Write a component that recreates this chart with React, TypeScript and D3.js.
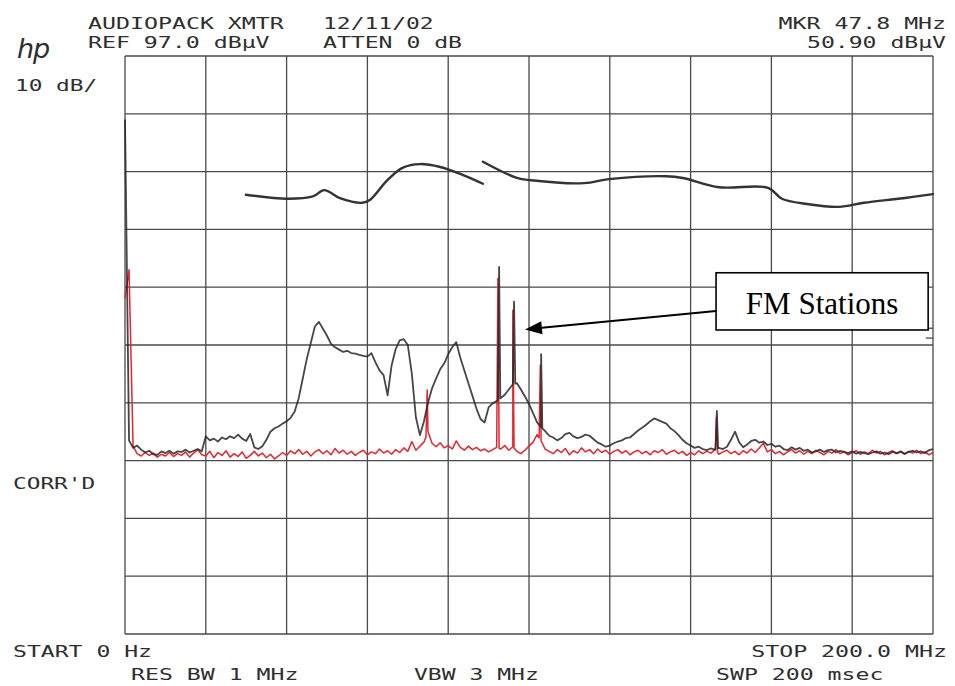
import React from 'react';
import * as d3 from 'd3';

// spectrum analyzer plot, 0-200 MHz, ref 97 dBuV, 10 dB/div
const startMHz = 0;
const stopMHz = 200;
const refLevel = 97;
const dbPerDiv = 10;

// black trace (transmitter on), one reading per MHz
const blackTrace = [
  86, 30.5, 29.2, 29.6, 28.9, 28.4, 28.7, 28.1, 28.0, 28.6,
  28.3, 28.7, 28.2, 28.6, 28.5, 28.9, 28.4, 28.7, 29.0, 28.6,
  31.2, 30.5, 30.8, 30.3, 31.0, 30.7, 31.2, 30.9, 31.5, 30.8,
  30.4, 31.6, 29.3, 29.0, 29.5, 30.6, 32.0, 32.6, 32.9, 33.4,
  33.8, 34.4, 35.5, 37.8, 41.2, 44.6, 47.4, 50.2, 51.0, 49.8,
  48.6, 47.2, 46.6, 46.2, 45.8, 46.0, 45.6, 45.5, 45.3, 45.1,
  45.0, 45.6, 44.0, 42.6, 41.8, 38.3, 43.5, 46.3, 47.8, 48.0,
  47.0, 42.0, 34.5, 31.4, 33.8, 37.0, 39.5, 41.2, 42.8, 43.8,
  45.4, 46.6, 47.5, 44.8, 42.6, 40.4, 38.2, 36.0, 34.2, 33.6,
  36.2, 36.9, 37.3, 37.8, 38.4, 39.3, 40.2, 40.4, 39.3, 38.1,
  36.8, 35.2, 33.6, 32.8, 32.1, 31.3, 31.0, 30.5, 30.9, 31.6,
  31.8, 31.2, 30.9, 31.1, 31.5, 31.3, 30.7, 30.1, 29.8, 29.4,
  29.6, 30.0, 30.3, 30.5, 30.9, 31.0, 31.6, 32.2, 32.7, 33.2,
  33.8, 34.3, 34.0, 33.7, 33.4, 32.6, 32.1, 31.4, 30.6, 30.0,
  29.6, 29.2, 29.4, 29.0, 28.8, 29.1, 28.9, 29.2, 29.0, 29.4,
  30.6, 32.0, 30.2, 29.3, 29.8, 30.4, 30.6, 30.1, 30.3, 29.7,
  29.9, 29.4, 29.6, 29.0, 28.8, 29.3, 28.9, 29.2, 28.7, 28.9,
  28.4, 28.6, 28.9, 28.5, 28.8, 28.9, 28.4, 28.7, 28.5, 28.3,
  28.6, 28.2, 28.5, 28.3, 28.1, 28.4, 28.6, 28.2, 28.4, 28.1,
  28.5, 28.3, 28.6, 28.2, 28.5, 28.7, 28.4, 28.6, 28.3, 28.8,
  29.0,
];

// red trace (ambient), one reading per MHz
const redTrace = [
  55, 60, 29.5, 28.2, 27.8, 28.4, 27.9, 28.3, 27.6, 28.1,
  27.8, 28.4, 27.7, 28.2, 27.9, 28.5, 27.6, 28.3, 28.9, 28.0,
  27.8, 28.6, 27.5, 28.4, 27.9, 28.7, 27.6, 28.2, 27.7, 28.5,
  27.4, 27.9, 28.6, 27.8, 28.3, 27.5, 28.1, 27.3, 27.8, 28.4,
  27.9, 28.7, 28.2, 28.9, 28.1, 28.6, 27.8, 28.5, 28.9, 28.2,
  28.7, 28.0, 29.1, 28.3, 28.8, 28.1, 28.6, 27.9, 28.4, 28.8,
  28.0, 28.5, 28.2, 29.0, 28.3, 28.7, 28.1, 28.9, 28.4, 29.2,
  28.6, 30.3, 28.8, 29.5, 30.2, 32.0, 30.0, 29.4, 30.1, 29.2,
  29.6, 29.0, 30.4, 29.3, 28.8, 29.5, 28.9, 29.3, 28.7, 29.0,
  28.5, 28.9, 29.3, 29.0, 29.6, 28.8, 29.4, 28.6, 28.2, 28.8,
  29.5, 30.2, 31.5, 30.4, 29.0, 28.6, 28.2, 28.9, 28.4, 29.1,
  28.0, 28.7, 28.3, 29.2, 28.5, 28.9, 28.2, 29.0, 28.4, 28.8,
  28.1, 28.6, 28.9, 28.3, 28.7, 28.0, 28.5, 28.8, 28.2, 28.6,
  28.0, 28.7, 28.4, 28.9, 28.1, 28.5, 28.8, 28.2, 28.6, 27.9,
  28.4, 28.0, 28.7, 28.2, 28.6, 28.3, 28.9, 28.1, 28.5, 28.8,
  28.2, 28.6, 28.0, 28.7, 28.3, 29.0, 28.4, 29.2, 30.0, 28.5,
  28.9, 28.2, 28.6, 28.0, 28.5, 28.9, 28.3, 28.7, 28.1, 28.6,
  28.2, 28.8, 28.4, 28.0, 28.6, 28.3, 28.9, 28.2, 28.5, 28.0,
  28.4, 28.7, 28.1, 28.5, 28.2, 28.8, 28.3, 28.6, 28.0, 28.4,
  28.7, 28.2, 28.5, 28.1, 28.6, 28.3, 28.8, 28.2, 28.5, 28.0,
  28.4,
];

// narrow carriers [MHz, dBuV]
const blackSpikes: [number, number][] = [[92.6, 60.5], [96.3, 54.5], [103.0, 45.4], [146.5, 35.6]];
const redSpikes: [number, number][] = [[74.8, 39.2], [92.3, 58.5], [96.0, 53.0], [102.8, 43.5], [146.4, 34.5]];

// hand drawn limit line, two pieces [MHz, dBuV]
const limitLow: [number, number][] = [
  [29.9, 73.0], [40.1, 72.3], [46.5, 72.7], [49.3, 73.8], [53.2, 72.4], [58.7, 71.6],
  [60.6, 72.1], [64.9, 75.5], [68.8, 77.7], [73.0, 78.3], [78.0, 77.8], [83.7, 76.4], [88.6, 74.9],
];
const limitHigh: [number, number][] = [
  [88.6, 78.7], [97.0, 75.9], [100.5, 75.5], [113.6, 75.0], [119.8, 75.7], [133.9, 76.2],
  [138.1, 75.9], [147.0, 74.3], [159.2, 74.2], [162.6, 72.3], [168.8, 71.4], [176.7, 70.9],
  [182.9, 71.6], [192.6, 72.4], [200, 73.1],
];

const headerLeft = ['AUDIOPACK XMTR', 'REF 97.0 dBµV'];
const headerMid = ['12/11/02', 'ATTEN 0 dB'];
const headerRight = ['MKR 47.8 MHz', '50.90 dBµV'];
const scaleLabel = '10 dB/';
const corrLabel = "CORR'D";
const footStart = 'START 0 Hz';
const footStop = 'STOP 200.0 MHz';
const footRbw = 'RES BW 1 MHz';
const footVbw = 'VBW 3 MHz';
const footSwp = 'SWP 200 msec';
const noteText = 'FM Stations';

const width = 955;
const height = 686;
const marginLeft = 125;
const marginRight = 22;
const marginTop = 56;
const marginBottom = 52;

const ink = '#2e2e2e';
const mono = "'DejaVu Sans Mono', monospace";
const charW = 14.2; // plotter character pitch

function withSpikes(base: number[], spikes: [number, number][]) {
  const pts: [number, number][] = base.map((v, i) => [startMHz + i, v]);
  const at = (f: number) => {
    const i = Math.floor(f);
    return d3.interpolateNumber(base[i], base[Math.min(i + 1, base.length - 1)])(f - i);
  };
  spikes.forEach(([f, v]) => {
    pts.push([f - 0.3, at(f - 0.3)], [f, v], [f + 0.3, at(f + 0.3)]);
  });
  return pts.sort((a, b) => a[0] - b[0]);
}

const Label = ({ x, y, s, end }: { x: number; y: number; s: string; end?: boolean }) => (
  <text x={x} y={y} textAnchor={end ? 'end' : 'start'} fontFamily={mono} fontSize={16} fill={ink}
    textLength={s.length * charW - 3} lengthAdjust="spacingAndGlyphs">{s}</text>
);

const App = () => {
  const x = d3.scaleLinear().domain([startMHz, stopMHz]).range([marginLeft, width - marginRight]);
  const y = d3.scaleLinear()
    .domain([refLevel - dbPerDiv * 10, refLevel])
    .range([height - marginBottom, marginTop]);

  const line = d3.line<[number, number]>().x(d => x(d[0])).y(d => y(d[1]));
  const smooth = d3.line<[number, number]>().x(d => x(d[0])).y(d => y(d[1])).curve(d3.curveCatmullRom);

  const xGrid = x.ticks(10);
  const yGrid = d3.range(refLevel - dbPerDiv * 10, refLevel + 1, dbPerDiv);

  // note box / arrow in data units
  const box = { f0: 146.3, f1: 198.8, top: 59.5, bottom: 49.6 };
  const arrowFrom: [number, number] = [146.3, 52.9];
  const arrowTo: [number, number] = [99.0, 49.7];
  const ax0 = x(arrowFrom[0]), ay0 = y(arrowFrom[1]);
  const ax1 = x(arrowTo[0]), ay1 = y(arrowTo[1]);
  const ang = Math.atan2(ay1 - ay0, ax1 - ax0);
  const headLen = 17, headW = 6.5;
  const bx = ax1 - headLen * Math.cos(ang), by = ay1 - headLen * Math.sin(ang);
  const head = [
    [ax1, ay1],
    [bx + headW * Math.sin(ang), by - headW * Math.cos(ang)],
    [bx - headW * Math.sin(ang), by + headW * Math.cos(ang)],
  ].map(p => p.join(',')).join(' ');

  return (
    <div style={{ position: 'absolute', left: 0, top: 0 }}>
      <svg width={width} height={height} viewBox={`0 0 ${width} ${height}`} style={{ display: 'block', background: '#fff' }}>
        {/* graticule */}
        <g stroke="#4a4a4a" strokeWidth={1.3}>
          {xGrid.map(f => (
            <line key={'v' + f} x1={x(f)} x2={x(f)} y1={y(refLevel)} y2={y(refLevel - dbPerDiv * 10)} />
          ))}
          {yGrid.map(v => (
            <line key={'h' + v} x1={x(startMHz)} x2={x(stopMHz)} y1={y(v)} y2={y(v)} />
          ))}
          <line x1={x(198.2)} x2={x(stopMHz)} y1={y(49.9)} y2={y(49.9)} />
          <line x1={x(198.2)} x2={x(stopMHz)} y1={y(48.2)} y2={y(48.2)} />
        </g>

        {/* limit line */}
        <g fill="none" stroke="#333" strokeWidth={2.4} strokeLinecap="round">
          <path d={smooth(limitLow) ?? ''} />
          <path d={smooth(limitHigh) ?? ''} />
        </g>

        {/* traces */}
        <path d={line(withSpikes(redTrace, redSpikes)) ?? ''} fill="none" stroke="#e3262f" strokeWidth={1.5} strokeLinejoin="round" />
        <path d={line(withSpikes(blackTrace, blackSpikes)) ?? ''} fill="none" stroke="#262626" strokeOpacity={0.85} strokeWidth={1.8} strokeLinejoin="round" />

        {/* note */}
        <line x1={ax0} y1={ay0} x2={bx} y2={by} stroke="#000" strokeWidth={2} />
        <polygon points={head} fill="#000" />
        <rect x={x(box.f0)} y={y(box.top)} width={x(box.f1) - x(box.f0)} height={y(box.bottom) - y(box.top)}
          fill="#fff" stroke="#000" strokeWidth={1.6} />
        <text x={(x(box.f0) + x(box.f1)) / 2} y={y(box.bottom) - 16} textAnchor="middle"
          fontFamily="'Liberation Serif', 'Times New Roman', serif" fontSize={31} fill="#000">{noteText}</text>

        {/* annotations */}
        <text x={17} y={58} fontFamily="'DejaVu Sans', sans-serif" fontStyle="italic" fontWeight={300}
          fontSize={27} fill={ink} letterSpacing={-1}>hp</text>
        {headerLeft.map((s, i) => <Label key={s} x={88} y={29 + i * 19} s={s} />)}
        {headerMid.map((s, i) => <Label key={s} x={323} y={29 + i * 19} s={s} />)}
        {headerRight.map((s, i) => <Label key={s} x={946} y={29 + i * 19} s={s} end />)}
        <Label x={15} y={91} s={scaleLabel} />
        <Label x={13} y={489} s={corrLabel} />
        <Label x={13} y={657} s={footStart} />
        <Label x={947} y={657} s={footStop} end />
        <Label x={131} y={680} s={footRbw} />
        <Label x={414} y={680} s={footVbw} />
        <Label x={716} y={680} s={footSwp} />
      </svg>
    </div>
  );
};

export default App;
